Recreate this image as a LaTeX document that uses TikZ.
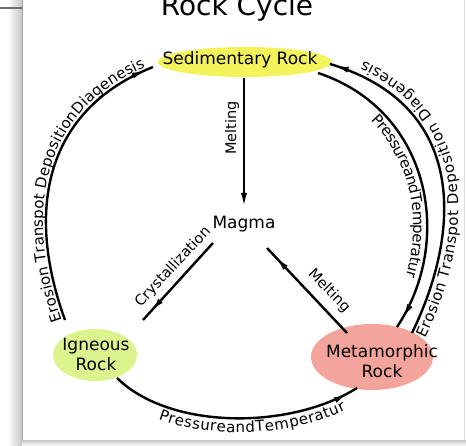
\documentclass[tikz,border=0pt]{standalone}
\usepackage{fontspec}
\setmainfont{DejaVu Sans}
\usetikzlibrary{arrows.meta,decorations.markings,decorations.text}
\definecolor{sedyellow}{HTML}{F3F35C}
\definecolor{igngreen}{HTML}{DCF48E}
\definecolor{metpink}{HTML}{F3A59C}
\begin{document}
\begin{tikzpicture}[x=1pt,y=-1pt,
  lbl/.style={font=\fontsize{17}{20}\selectfont, inner sep=0pt, align=center},
  small/.style={font=\fontsize{14.5}{15}\selectfont, inner sep=0pt},
  conn/.style={line width=2.4pt},
  tip/.style={-{Latex[length=15pt,width=6pt]}},
  midtip/.style={postaction={decorate}, decoration={markings, mark=at position #1 with {\arrow{Latex[length=15pt,width=6pt]}}}},
  pathtext/.style 2 args={postaction={decorate, decoration={text along path, text={|\fontsize{15}{15}\selectfont|#1}, #2}}},
]
\useasboundingbox (0,0) rectangle (466,446);
% window frame
\fill[white] (0,0) rectangle (466,446);
\shade[left color=white, right color=gray!45] (8,0) rectangle (22,446);
\shade[top color=gray!45, bottom color=white] (22,440) rectangle (466,446);
\draw[gray!70, line width=1pt] (22,0) -- (22,440);
\draw[gray!30, line width=1pt] (464,0) -- (464,440);
\draw[gray!85!black, line width=1.2pt] (0,8) -- (22,8);

% highlight blobs
\fill[sedyellow] (245,62) ellipse [x radius=87, y radius=15];
\fill[igngreen] (95,355) ellipse [x radius=42, y radius=26];
\fill[metpink] (372,357) ellipse [x radius=61, y radius=33];

% nodes
\node[lbl, font=\fontsize{28}{30}\selectfont, anchor=base] (title) at (237,16) {Rock Cycle};
\node[lbl, anchor=base] (sed) at (240,65) {Sedimentary Rock};
\node[lbl, anchor=base] (mag) at (244,229) {Magma};
\node[lbl, anchor=north] (ign) at (96,337.6) {Igneous\\Rock};
\node[lbl, anchor=north] (met) at (382,344) {Metamorphic\\Rock};

% straight connectors
\draw[conn, tip] ([shift={(4,13)}]sed.base) -- ([shift={(0,-21)}]mag.base);
\draw[conn, midtip=-11pt] ([shift={(-31,14)}]mag.base) -- ([shift={(47,-17.6)}]ign.north);
\draw[conn, midtip=-12pt] ([shift={(-35,-11)}]met.north) -- ([shift={(23,19)}]mag.base);

\node[small, rotate=90] (lm1) at (232,128) {Melting};
\node[small, rotate=47] (lcr) at (173,267) {Crystallization};
\node[small, rotate=-46] (lm2) at (329,291) {Melting};

% left arc: igneous -> sedimentary
\draw[conn, midtip=-7pt, pathtext={Erosion Transpot DepositionDiagenesis}{text align={left indent=1pt}, raise=3pt}]
  ([shift={(-31,-17.6)}]ign.north) .. controls (25,210) and (45,110) .. ([shift={(-87,2)}]sed.base);

% outer right arc: metamorphic -> sedimentary
\draw[conn, midtip=-4pt, pathtext={Erosion Transpot Deposition Diagenesis}{text align={left indent=1pt}, raise=-14pt}]
  ([shift={(30,-11)}]met.north) .. controls (462,230) and (467,105) .. ([shift={(90,-1)}]sed.base);

% inner right arc: sedimentary -> metamorphic
\draw[conn, midtip=-10pt, pathtext={PressureandTemperatur}{text align={left indent=74pt}, raise=-14pt}]
  ([shift={(78,8)}]sed.base) .. controls (430,110) and (455,240) .. ([shift={(15,-17)}]met.north);

% bottom arc: igneous -> metamorphic
\draw[conn, midtip=-10pt, pathtext={PressureandTemperatur}{text align={left indent=54pt}, raise=-14pt}]
  ([shift={(21,40.4)}]ign.north) .. controls (170,430) and (290,430) .. ([shift={(-25,44)}]met.north);
\end{tikzpicture}
\end{document}
